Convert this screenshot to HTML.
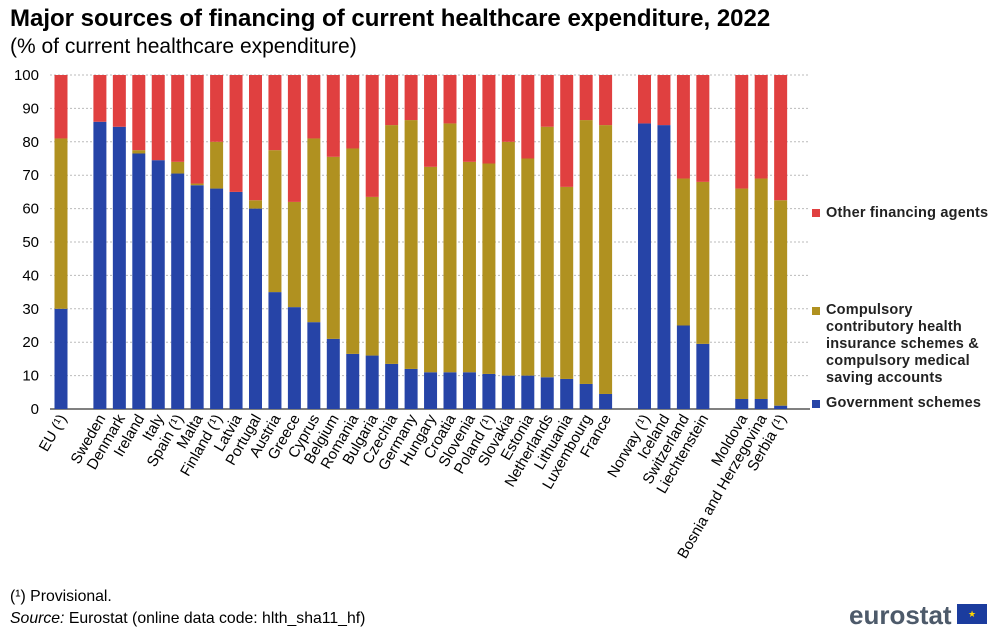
<!DOCTYPE html>
<html><head><meta charset="utf-8"><style>
body{margin:0;width:1001px;height:634px;background:#fff;font-family:"Liberation Sans",Arial,sans-serif;overflow:hidden;position:relative}
.t{position:absolute;left:10px;top:5px;font-size:24px;font-weight:bold;color:#000}
.st{position:absolute;left:10px;top:35px;font-size:21px;color:#000}
.leg{position:absolute;left:826px;font-size:14.5px;font-weight:bold;line-height:17px;color:#222;letter-spacing:0.2px}
.sq{position:absolute;width:8px;height:8px}
.fn{position:absolute;left:10px;font-size:15.8px;color:#000}
</style></head><body>
<div class="t">Major sources of financing of current healthcare expenditure, 2022</div>
<div class="st">(% of current healthcare expenditure)</div>
<svg id="chart" width="1001" height="634" style="position:absolute;left:0;top:0"></svg>
<div class="sq" style="left:812px;top:209px;background:#E04040"></div>
<div class="leg" style="top:205px">Other financing agents</div>
<div class="sq" style="left:812px;top:307px;background:#B09120"></div>
<div class="leg" style="top:302px">Compulsory<br>contributory health<br>insurance schemes &amp;<br>compulsory medical<br>saving accounts</div>
<div class="sq" style="left:812px;top:400px;background:#2644A7"></div>
<div class="leg" style="top:395px">Government schemes</div>
<div class="fn" style="top:588px">(¹) Provisional.</div>
<div class="fn" style="top:610px"><i>Source:</i> Eurostat (online data code: hlth_sha11_hf)</div>
<div style="position:absolute;left:849px;top:600px;font-size:26px;font-weight:bold;color:#4d5a6a">eurostat</div>
<div style="position:absolute;left:957px;top:604px;width:30px;height:20px;background:#1B3C9E;color:#FFD700;font-size:9px;text-align:center;line-height:20px">★</div>
<script>
const categories=["EU (¹)","","Sweden","Denmark","Ireland","Italy","Spain (¹)","Malta","Finland (¹)","Latvia","Portugal","Austria","Greece","Cyprus","Belgium","Romania","Bulgaria","Czechia","Germany","Hungary","Croatia","Slovenia","Poland (¹)","Slovakia","Estonia","Netherlands","Lithuania","Luxembourg","France","","Norway (¹)","Iceland","Switzerland","Liechtenstein","","Moldova","Bosnia and Herzegovina","Serbia (¹)"];
const government=[30,null,86,84.5,76.5,74.5,70.5,67,66,65,60,35,30.5,26,21,16.5,16,13.5,12,11,11,11,10.5,10,10,9.5,9,7.5,4.5,null,85.5,85,25,19.5,null,3,3,1];
const compulsory=[51,null,0,0,1,0,3.5,0.5,14,0,2.5,42.5,31.5,55,54.5,61.5,47.5,71.5,74.5,61.5,74.5,63,63,70,65,75,57.5,79,80.5,null,0,0,44,48.5,null,63,66,61.5];
const other=[19,null,14,15.5,22.5,25.5,26,32.5,20,35,37.5,22.5,38,19,24.5,22,36.5,15,13.5,27.5,14.5,26,26.5,20,25,15.5,33.5,13.5,15,null,14.5,15,31,32,null,34,31,37.5];
const yTicks=[0,10,20,30,40,50,60,70,80,90,100];
const svg=document.getElementById('chart');
const NS="http://www.w3.org/2000/svg";
const x0=61,step=19.45,bw=13,yTop=75,yBot=409,xL=50,xR=810;
const y=v=>yBot-(yBot-yTop)*v/100;
const xs=i=>x0+i*step;
function mk(t,a){const e=document.createElementNS(NS,t);for(const k in a)e.setAttribute(k,a[k]);svg.appendChild(e);return e;}
yTicks.forEach(v=>{
 const l=mk('line',{x1:xL,x2:xR,y1:y(v),y2:y(v),stroke:v===0?'#000':'#bbb','stroke-dasharray':v===0?'':'2,2','stroke-width':1});
 
 
 const t=mk('text',{x:39,y:y(v)+5,'text-anchor':'end','font-size':15,fill:'#000','font-family':'Liberation Sans, sans-serif'});
 t.textContent=v;
 
 
});
categories.forEach((c,i)=>{
 if(!c)return;
 const cx=xs(i);
 let base=0;
 [[government[i],'#2644A7','gov'],[compulsory[i],'#B09120','comp'],[other[i],'#E04040','other']].forEach(([v,col,n])=>{
  const r=mk('rect',{x:cx-bw/2,y:y(base+v),width:bw,height:y(base)-y(base+v),fill:col});
  
  
  base+=v;
 });
 const t=mk('text',{x:cx+6,y:418,'text-anchor':'end','font-size':15,fill:'#000','font-family':'Liberation Sans, sans-serif',transform:`rotate(-60 ${cx+6} 418)`});
 t.textContent=c;
 
 
});
</script>
</body></html>
